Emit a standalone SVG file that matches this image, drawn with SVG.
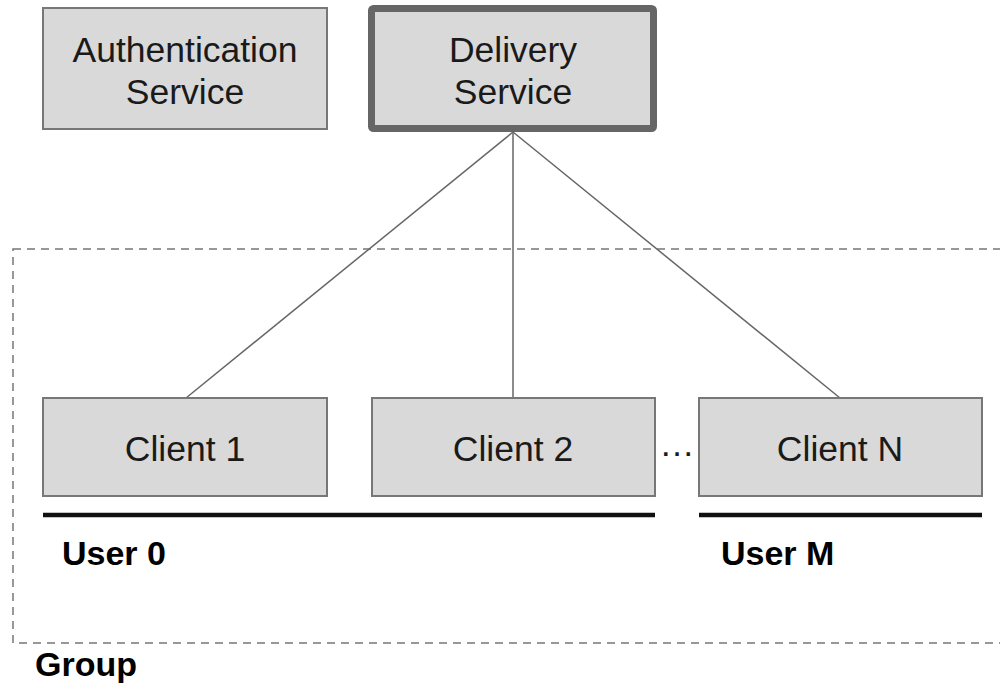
<svg xmlns="http://www.w3.org/2000/svg" width="1000" height="692" viewBox="0 0 1000 692">
  <style>
    .box { fill: #d9d9d9; stroke: #777777; stroke-width: 2; }
    .main { fill: #d9d9d9; stroke: #666666; stroke-width: 7; }
    .lbl { font-family: "Liberation Sans", Arial, sans-serif; font-size: 35.5px; fill: #1a1a1a; text-anchor: middle; }
    .bold { font-family: "Liberation Sans", Arial, sans-serif; font-size: 34px; font-weight: bold; fill: #000000; }
    .link { stroke: #666666; stroke-width: 1.5; fill: none; }
    .bar { stroke: #111111; stroke-width: 4.5; }
  </style>
  <rect width="1000" height="692" fill="#ffffff"/>

  <!-- group boundary -->
  <g id="group">
    <rect x="13" y="249" width="1000" height="394" fill="none" stroke="#777777" stroke-width="1.5" stroke-dasharray="8 6"/>
    <text class="bold" x="35" y="676">Group</text>
  </g>

  <!-- connectors -->
  <g id="connectors">
    <line class="link" x1="513" y1="132" x2="186" y2="398"/>
    <line class="link" x1="513" y1="132" x2="513" y2="398"/>
    <line class="link" x1="513" y1="132" x2="840" y2="398"/>
  </g>

  <g id="auth">
    <rect class="box" x="43" y="8" width="284" height="121"/>
    <text class="lbl" x="185" y="62">Authentication</text>
    <text class="lbl" x="185" y="104">Service</text>
  </g>

  <g id="delivery">
    <rect class="main" x="371.5" y="8.5" width="282" height="120" rx="2"/>
    <text class="lbl" x="513" y="62">Delivery</text>
    <text class="lbl" x="513" y="104">Service</text>
  </g>

  <g id="client1">
    <rect class="box" x="43" y="398" width="284" height="98"/>
    <text class="lbl" x="185" y="461">Client 1</text>
  </g>

  <g id="client2">
    <rect class="box" x="372" y="398" width="283" height="98"/>
    <text class="lbl" x="513" y="461">Client 2</text>
  </g>

  <g id="ellipsis">
    <text class="lbl" x="677" y="456">…</text>
  </g>

  <g id="clientN">
    <rect class="box" x="699" y="398" width="283" height="98"/>
    <text class="lbl" x="840" y="461">Client N</text>
  </g>

  <g id="user0">
    <line class="bar" x1="43" y1="515" x2="655" y2="515"/>
    <text class="bold" x="62" y="565">User 0</text>
  </g>

  <g id="userM">
    <line class="bar" x1="699" y1="515" x2="982" y2="515"/>
    <text class="bold" x="721" y="565">User M</text>
  </g>
</svg>
